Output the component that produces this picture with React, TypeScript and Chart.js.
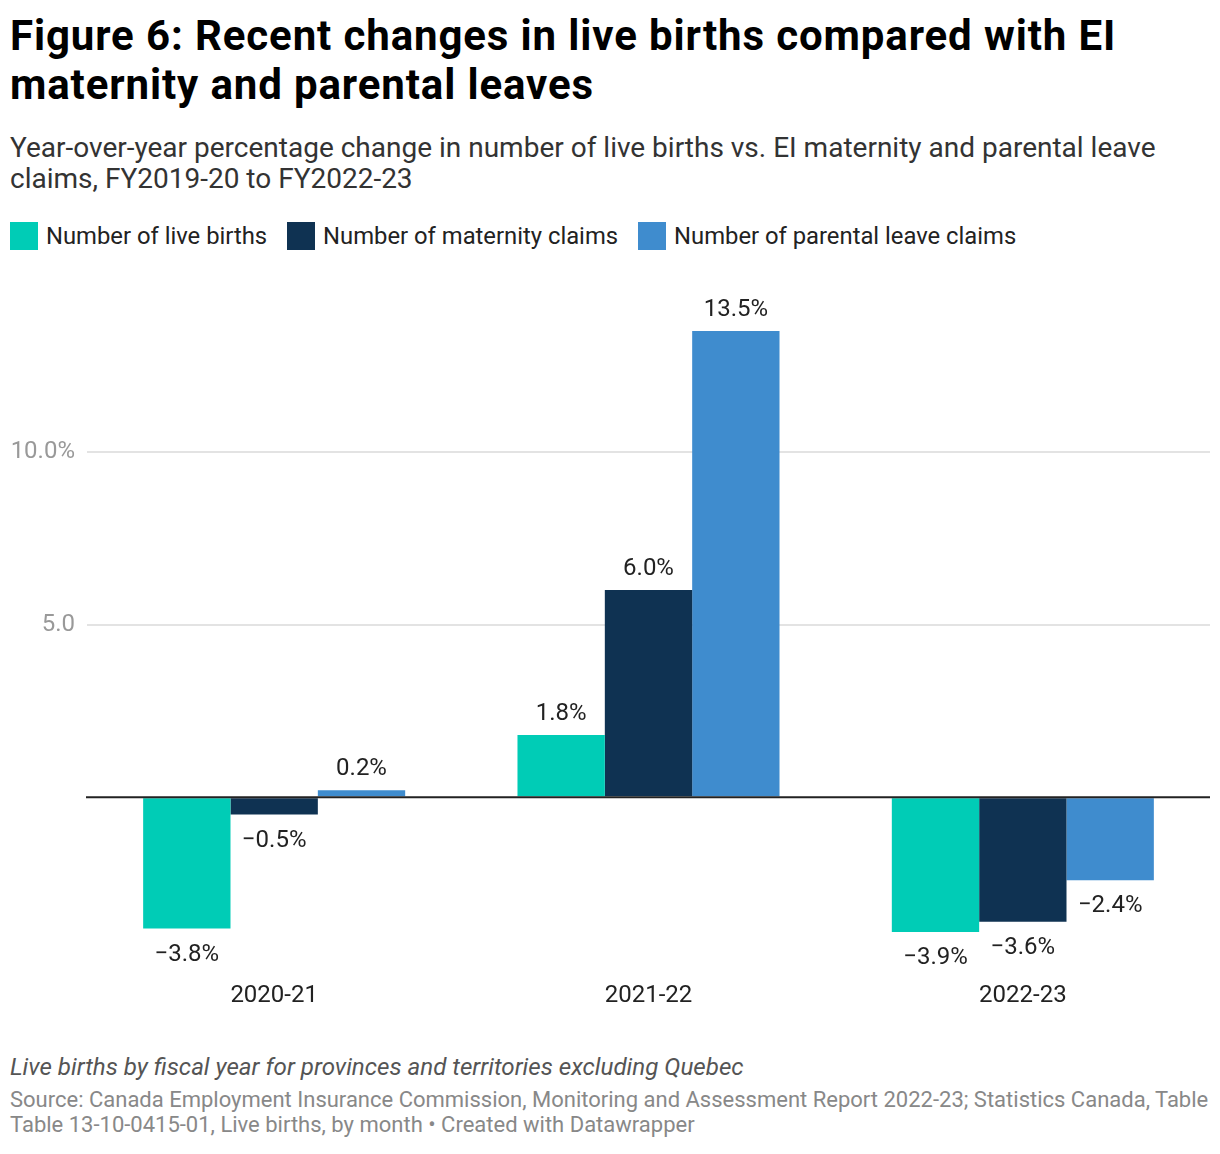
import React, { useEffect, useRef } from "react";
import { Chart, registerables } from "chart.js";

Chart.register(...registerables);

const categories = ["2020-21", "2021-22", "2022-23"];
const seriesNames = [
  "Number of live births",
  "Number of maternity claims",
  "Number of parental leave claims",
];
const liveBirths = [-3.8, 1.8, -3.9];
const maternityClaims = [-0.5, 6.0, -3.6];
const parentalClaims = [0.2, 13.5, -2.4];
const seriesColors = ["#00CCB6", "#0F3252", "#3F8CCE"];
const yTickLabels: Record<number, string> = { 5: "5.0", 10: "10.0%" };

const FONT = "Roboto, 'Noto Sans', sans-serif";

function fmt(v: number): string {
  const s = Math.abs(v).toFixed(1) + "%";
  return v < 0 ? "\u2212" + s : s;
}

const labelPlugin = {
  id: "valueLabels",
  afterDatasetsDraw(chart: any) {
    const ctx = chart.ctx;
    const yScale = chart.scales.y;
    const area = chart.chartArea;
    const y0 = yScale.getPixelForValue(0);
    ctx.save();
    ctx.strokeStyle = "#222222";
    ctx.lineWidth = 2;
    ctx.beginPath();
    ctx.moveTo(area.left - 1, y0);
    ctx.lineTo(area.right, y0);
    ctx.stroke();
    ctx.font = `24px ${FONT}`;
    ctx.fillStyle = "#222222";
    ctx.textAlign = "center";
    ctx.textBaseline = "alphabetic";
    chart.data.datasets.forEach((ds: any, i: number) => {
      const meta = chart.getDatasetMeta(i);
      meta.data.forEach((el: any, j: number) => {
        const v = ds.data[j] as number;
        const y = v >= 0 ? el.y - 15 : el.y + 32;
        ctx.fillText(fmt(v), el.x, y);
      });
    });
    ctx.restore();
  },
};

function BarChart() {
  const ref = useRef<HTMLCanvasElement>(null);
  useEffect(() => {
    if (!ref.current) return;
    const values = [liveBirths, maternityClaims, parentalClaims];
    const chart = new Chart(ref.current, {
      type: "bar",
      data: {
        labels: categories,
        datasets: seriesNames.map((name, i) => ({
          label: name,
          data: values[i],
          backgroundColor: seriesColors[i],
          borderWidth: 0,
          categoryPercentage: 0.7,
          barPercentage: 1.0,
        })),
      },
      options: {
        animation: false,
        responsive: false,
        maintainAspectRatio: false,
        devicePixelRatio: 1,
        layout: { padding: { top: 25.3, right: 2, left: 0, bottom: 0 } },
        plugins: {
          legend: { display: false },
          tooltip: { enabled: false },
          title: { display: false },
        },
        scales: {
          x: {
            grid: { display: false, drawTicks: false },
            border: { display: false },
            ticks: {
              color: "#222222",
              font: { family: FONT, size: 24 },
              padding: 12,
              maxRotation: 0,
            },
            afterFit: (scale: any) => {
              scale.height = 60;
            },
          },
          y: {
            min: -5,
            max: 14.5,
            border: { display: false },
            grid: {
              drawTicks: false,
              color: (c: any) =>
                c.tick && (c.tick.value === 5 || c.tick.value === 10)
                  ? "#e3e3e3"
                  : "rgba(0,0,0,0)",
              lineWidth: 2,
            },
            ticks: {
              stepSize: 5,
              padding: 12,
              color: "#999999",
              font: { family: FONT, size: 24 },
              callback: (v: any) => yTickLabels[v as number] ?? "",
            },
            afterFit: (scale: any) => {
              scale.width = 79;
            },
          },
        },
      },
      plugins: [labelPlugin],
    });
    return () => chart.destroy();
  }, []);
  return (
    <canvas
      ref={ref}
      width={1204}
      height={760}
      style={{ position: "absolute", left: 0, top: 262, width: 1204, height: 760 }}
    />
  );
}

export default function App() {
  return (
    <div
      style={{
        position: "relative",
        width: 1204,
        height: 1138,
        fontFamily: FONT,
        background: "#ffffff",
      }}
    >
      <div
        style={{
          position: "absolute",
          left: 2,
          top: 2.5,
          width: 1200,
          fontSize: 42,
          letterSpacing: "0.88px",
          lineHeight: "49px",
          fontWeight: 700,
          color: "#000000",
        }}
      >
        Figure 6: Recent changes in live births compared with EI maternity and parental leaves
      </div>
      <div
        style={{
          position: "absolute",
          left: 2,
          top: 123.9,
          width: 1200,
          fontSize: 28,
          lineHeight: "31px",
          color: "#333333",
        }}
      >
        Year-over-year percentage change in number of live births vs. EI maternity and parental leave claims, FY2019-20 to FY2022-23
      </div>
      <div
        style={{
          position: "absolute",
          left: 2,
          top: 214,
          height: 28,
          display: "flex",
          alignItems: "center",
        }}
      >
        {seriesNames.map((name, i) => (
          <div
            key={name}
            style={{ display: "flex", alignItems: "center", marginRight: 20 }}
          >
            <span
              style={{
                display: "inline-block",
                width: 28,
                height: 28,
                background: seriesColors[i],
                marginRight: 8,
              }}
            />
            <span style={{ fontSize: 23.8, lineHeight: "28px", color: "#222222" }}>
              {name}
            </span>
          </div>
        ))}
      </div>
      <BarChart />
      <div
        style={{
          position: "absolute",
          left: 2,
          top: 1045.8,
          width: 1200,
          fontSize: 24.15,
          lineHeight: "26px",
          fontStyle: "italic",
          color: "#555555",
        }}
      >
        Live births by fiscal year for provinces and territories excluding Quebec
      </div>
      <div
        style={{
          position: "absolute",
          left: 2,
          top: 1078.7,
          width: 1202,
          fontSize: 22,
          lineHeight: "25px",
          color: "#888888",
        }}
      >
        Source: Canada Employment Insurance Commission, Monitoring and Assessment Report 2022-23; Statistics Canada, Table Table 13-10-0415-01, Live births, by month • Created with Datawrapper
      </div>
    </div>
  );
}
